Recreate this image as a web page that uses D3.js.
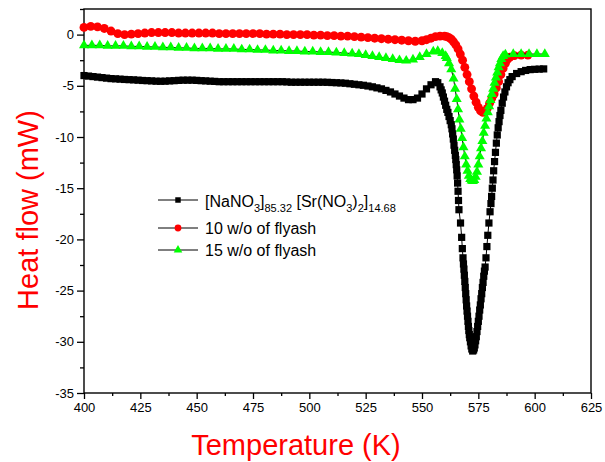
<!doctype HTML>
<html>
<head>
    <style>
        body { margin: 0; background: #ffffff; }
        text { font-family: "Liberation Sans", Arial, sans-serif; }
    </style>
    <script src="https://d3js.org/d3.v7.min.js"></script>
</head>
<body>
<div id="dsc"></div>
<script>

    // values: [temperature (K), heat flow (mW)]
    var pureSalt = [
        [400, -4.0], [402, -4.05], [404, -4.1], [406, -4.15], [408, -4.2], [410, -4.25], [412, -4.3], [414, -4.32], [416, -4.35], [418, -4.38],
        [420, -4.4], [422, -4.42], [424, -4.45], [426, -4.48], [428, -4.5], [430, -4.52], [432, -4.55], [434, -4.56], [436, -4.55], [438, -4.52],
        [440, -4.5], [442, -4.47], [444, -4.45], [446, -4.45], [448, -4.45], [450, -4.47], [452, -4.5], [454, -4.52], [456, -4.55], [458, -4.57],
        [460, -4.6], [462, -4.6], [464, -4.6], [466, -4.6], [468, -4.6], [470, -4.6], [472, -4.6], [474, -4.6], [476, -4.6], [478, -4.6],
        [480, -4.6], [482, -4.6], [484, -4.6], [486, -4.6], [488, -4.6], [490, -4.62], [492, -4.65], [494, -4.65], [496, -4.65], [498, -4.65],
        [500, -4.65], [502, -4.65], [504, -4.65], [506, -4.65], [508, -4.66], [510, -4.68], [512, -4.7], [514, -4.72], [516, -4.75], [518, -4.8],
        [520, -4.85], [522, -4.9], [524, -4.95], [526, -5.02], [528, -5.1], [530, -5.2], [532, -5.3], [534, -5.45], [536, -5.6], [538, -5.8],
        [540, -6.0], [542, -6.2], [544, -6.35], [546, -6.35], [548, -6.2], [550, -5.8], [552, -5.3], [554, -4.9], [556, -4.6], [557, -4.7],
        [558, -5.1], [558.5, -5.4], [559, -5.7], [559.5, -6.1], [560, -6.5], [560.5, -6.9], [561, -7.3], [561.5, -7.6], [562, -8.0], [562.5, -8.4],
        [563, -8.8], [563.3, -9.2], [563.6, -9.7], [563.9, -10.2], [564.2, -10.8], [564.5, -11.3], [564.8, -11.8], [565, -12.2], [565.2, -12.7], [565.4, -13.2],
        [565.6, -13.8], [565.8, -14.5], [566, -15.3], [566.2, -16.2], [566.4, -17.1], [567.1, -18.4], [567.6, -19.8], [567.9, -20.9], [568.2, -21.8], [568.4, -22.4],
        [568.6, -22.9], [568.8, -23.5], [569, -24.1], [569.2, -24.7], [569.4, -25.3], [569.6, -25.9], [569.8, -26.5], [570, -27.0], [570.2, -27.5], [570.4, -28.0],
        [570.6, -28.5], [570.8, -28.9], [571, -29.3], [571.2, -29.6], [571.5, -30.0], [571.8, -30.4], [572.1, -30.7], [572.5, -30.9], [572.9, -30.8], [573.2, -30.6],
        [573.5, -30.3], [573.8, -29.9], [574.1, -29.5], [574.4, -29.0], [574.7, -28.5], [575, -28.0], [575.3, -27.5], [575.6, -26.9], [575.9, -26.4], [576.2, -25.8],
        [576.5, -25.3], [576.8, -24.7], [577.1, -24.2], [577.4, -23.6], [577.7, -23.1], [578, -22.7], [578.4, -21.8], [578.8, -20.7], [579.2, -19.6], [579.7, -18.4],
        [580.2, -17.3], [580.6, -16.5], [580.9, -15.8], [581.2, -15.0], [581.5, -14.2], [581.8, -13.3], [582.2, -12.4], [582.6, -11.5], [583, -10.6], [583.4, -9.8],
        [583.8, -9.1], [584.2, -8.5], [584.6, -7.9], [585, -7.4], [585.6, -6.7], [586.2, -6.1], [586.8, -5.6], [587.5, -5.1], [588.2, -4.7], [589, -4.4],
        [590, -4.1], [592, -3.8], [594, -3.62], [596, -3.5], [598, -3.42], [600, -3.39], [602, -3.37], [604, -3.35]
    ];

    var flyash10 = [
        [400, 0.7], [403, 0.8], [406, 0.75], [409, 0.6], [412, 0.35], [415, 0.1], [418, 0.0], [421, 0.05], [424, 0.1], [427, 0.15],
        [430, 0.2], [433, 0.2], [436, 0.2], [439, 0.2], [442, 0.15], [445, 0.15], [448, 0.15], [451, 0.15], [454, 0.15], [457, 0.15],
        [460, 0.1], [463, 0.1], [466, 0.1], [469, 0.1], [472, 0.1], [475, 0.1], [478, 0.1], [481, 0.05], [484, 0.05], [487, 0.05],
        [490, 0.0], [493, 0.0], [496, 0.0], [499, 0.0], [502, -0.05], [505, -0.05], [508, -0.1], [511, -0.1], [514, -0.15], [517, -0.15],
        [520, -0.2], [523, -0.25], [526, -0.3], [529, -0.35], [532, -0.4], [535, -0.45], [538, -0.5], [541, -0.55], [544, -0.6], [547, -0.65],
        [550, -0.6], [552, -0.5], [554, -0.35], [556, -0.2], [558, -0.15], [560, -0.15], [561, -0.2], [562, -0.3], [563, -0.45], [564, -0.7],
        [565, -1.0], [566, -1.4], [567, -1.9], [568, -2.5], [569, -3.2], [570, -3.9], [571, -4.6], [572, -5.3], [573, -6.0], [574, -6.6],
        [575, -7.1], [576, -7.45], [577, -7.6], [578, -7.5], [579, -7.2], [580, -6.7], [581, -6.2], [582, -5.8], [583, -5.2], [584, -4.6],
        [585, -3.9], [586, -3.3], [587, -2.8], [588, -2.4], [589, -2.2], [591, -2.05], [594, -2.0], [597, -2.0]
    ];

    var flyash15 = [
        [400, -1.05], [403.5, -1.05], [407, -1.05], [410.5, -1.1], [414, -1.1], [417.5, -1.1], [421, -1.15], [424.5, -1.15], [428, -1.2], [431.5, -1.2],
        [435, -1.25], [438.5, -1.25], [442, -1.3], [445.5, -1.3], [449, -1.35], [452.5, -1.35], [456, -1.35], [459.5, -1.4], [463, -1.4], [466.5, -1.4],
        [470, -1.45], [473.5, -1.45], [477, -1.5], [480.5, -1.5], [484, -1.55], [487.5, -1.55], [491, -1.6], [494.5, -1.6], [498, -1.65], [501.5, -1.65],
        [505, -1.7], [508.5, -1.7], [512, -1.75], [515.5, -1.8], [519, -1.85], [522, -1.9], [525, -2.0], [528, -2.1], [531, -2.2], [534, -2.3],
        [537, -2.4], [540, -2.5], [543, -2.55], [546, -2.45], [549, -2.2], [552, -1.9], [555, -1.65], [557, -1.6], [559, -1.8], [560.5, -2.1],
        [561, -2.3], [562, -2.8], [563, -3.4], [564, -4.3], [564.7, -5.3], [565.4, -6.3], [566, -7.3], [566.6, -8.3], [567.2, -9.2], [567.8, -10.1],
        [568.4, -11.0], [569, -11.9], [569.6, -12.7], [570.2, -13.3], [570.8, -13.8], [571.4, -14.1], [572, -14.25], [572.6, -14.3], [573.2, -14.2], [573.8, -13.9],
        [574.4, -13.4], [575, -12.7], [575.6, -11.9], [576.2, -11.1], [576.8, -10.4], [577.4, -9.6], [578, -8.9], [578.6, -8.2], [579.2, -7.6], [579.8, -7.0],
        [580.4, -6.4], [581, -5.8], [581.6, -5.3], [582.2, -4.7], [582.8, -4.2], [583.4, -3.7], [584, -3.2], [584.6, -2.8], [585.2, -2.4], [586, -2.1],
        [587, -1.95], [590.5, -1.9], [594, -1.9], [597.5, -1.9], [601, -1.9], [604.5, -1.9]
    ];

    var xTicks = [400, 425, 450, 475, 500, 525, 550, 575, 600, 625];
    var yTicks = [0, -5, -10, -15, -20, -25, -30, -35];
    var legendLabels = ["pure", "10 w/o of flyash", "15 w/o of flyash"];

    // canvas and plot area
    var canvasWidth = 605;
    var canvasHeight = 462;
    var plotLeft = 84, plotRight = 591, plotTop = 9, plotBottom = 393;

    var svg = d3.select("#dsc").append("svg")
        .attr("width", canvasWidth)
        .attr("height", canvasHeight)

    var x = d3.scaleLinear().domain([400, 625]).range([plotLeft, plotRight]);
    var y = d3.scaleLinear().domain([-35, 2.5]).range([plotBottom, plotTop]);

    // minor ticks half way between the major ones
    var xMinor = d3.range(412.5, 625, 25);
    var yMinor = d3.range(-32.5, 3, 5);

    svg.append("g")
        .attr("transform", "translate(0," + plotBottom + ")")
        .call(d3.axisBottom(x).tickValues(xMinor).tickSize(3).tickFormat(""));
    svg.append("g")
        .attr("transform", "translate(" + plotLeft + ",0)")
        .call(d3.axisLeft(y).tickValues(yMinor).tickSize(4).tickFormat(""));

    svg.append("g")
        .attr("transform", "translate(0," + plotBottom + ")")
        .call(d3.axisBottom(x).tickValues(xTicks).tickSize(6).tickSizeOuter(0).tickPadding(4).tickFormat(d => String(d)));
    svg.append("g")
        .attr("transform", "translate(" + plotLeft + ",0)")
        .call(d3.axisLeft(y).tickValues(yTicks).tickSize(7).tickSizeOuter(0).tickPadding(3).tickFormat(d => String(d)));

    svg.selectAll(".tick line").attr("stroke", "#000").attr("stroke-width", 1.3);
    svg.selectAll(".tick text")
        .attr("font-family", "Liberation Sans, Arial, sans-serif")
        .attr("font-size", "13px")
        .attr("fill", "#000");
    svg.selectAll(".domain").remove();

    // frame round the plot
    svg.append("rect")
        .attr("x", plotLeft)
        .attr("y", plotTop)
        .attr("width", plotRight - plotLeft)
        .attr("height", plotBottom - plotTop)
        .attr("fill", "none")
        .attr("stroke", "#000")
        .attr("stroke-width", 1.4);

    var line = d3.line().x(d => x(d[0])).y(d => y(d[1]));

    var series = [
        {pts: pureSalt, color: "#000000", shape: d3.symbolSquare, size: 52, legendSize: 30},
        {pts: flyash10, color: "#ff0000", shape: d3.symbolCircle, size: 62, legendSize: 36},
        {pts: flyash15, color: "#00ff00", shape: d3.symbolTriangle, size: 44, legendSize: 32}
    ];

    var plot = svg.append("g");

    series.forEach(function(s) {
        plot.append("path")
            .datum(s.pts)
            .attr("d", line)
            .attr("fill", "none")
            .attr("stroke", "#000")
            .attr("stroke-width", 1);
        plot.append("g")
            .selectAll("path")
            .data(s.pts)
            .join("path")
            .attr("transform", d => "translate(" + x(d[0]) + "," + y(d[1]) + ")")
            .attr("d", d3.symbol().type(s.shape).size(s.size))
            .attr("fill", s.color);
    });

    // legend
    var legendY = [200, 228, 250];
    series.forEach(function(s, i) {
        svg.append("line")
            .attr("x1", 158).attr("x2", 198)
            .attr("y1", legendY[i]).attr("y2", legendY[i])
            .attr("stroke", "#000").attr("stroke-width", 1);
        svg.append("path")
            .attr("transform", "translate(178," + legendY[i] + ")")
            .attr("d", d3.symbol().type(s.shape).size(s.legendSize))
            .attr("fill", s.color);
    });

    var t1 = svg.append("text")
        .attr("x", 205)
        .attr("y", legendY[0] + 7)
        .attr("font-size", "16px");
    t1.append("tspan").text("[NaNO");
    t1.append("tspan").attr("font-size", "11px").attr("dy", 5).text("3");
    t1.append("tspan").attr("dy", -5).text("]");
    t1.append("tspan").attr("font-size", "11px").attr("dy", 5).text("85.32");
    t1.append("tspan").attr("dy", -5).text(" [Sr(NO");
    t1.append("tspan").attr("font-size", "11px").attr("dy", 5).text("3");
    t1.append("tspan").attr("dy", -5).text(")");
    t1.append("tspan").attr("font-size", "11px").attr("dy", 5).text("2");
    t1.append("tspan").attr("dy", -5).text("]");
    t1.append("tspan").attr("font-size", "11px").attr("dy", 5).text("14.68");

    svg.append("text")
        .attr("x", 205)
        .attr("y", legendY[1] + 6)
        .attr("font-size", "16px")
        .text(legendLabels[1]);
    svg.append("text")
        .attr("x", 205)
        .attr("y", legendY[2] + 6)
        .attr("font-size", "16px")
        .text(legendLabels[2]);

    // axis titles
    svg.append("text")
        .attr("transform", "translate(38,210) rotate(-90)")
        .attr("text-anchor", "middle")
        .attr("font-size", "29px")
        .attr("fill", "#ff0000")
        .text("Heat flow (mW)");

    svg.append("text")
        .attr("x", 296)
        .attr("y", 455)
        .attr("text-anchor", "middle")
        .attr("font-size", "29px")
        .attr("fill", "#ff0000")
        .text("Temperature (K)");

</script>
</body>
</html>
